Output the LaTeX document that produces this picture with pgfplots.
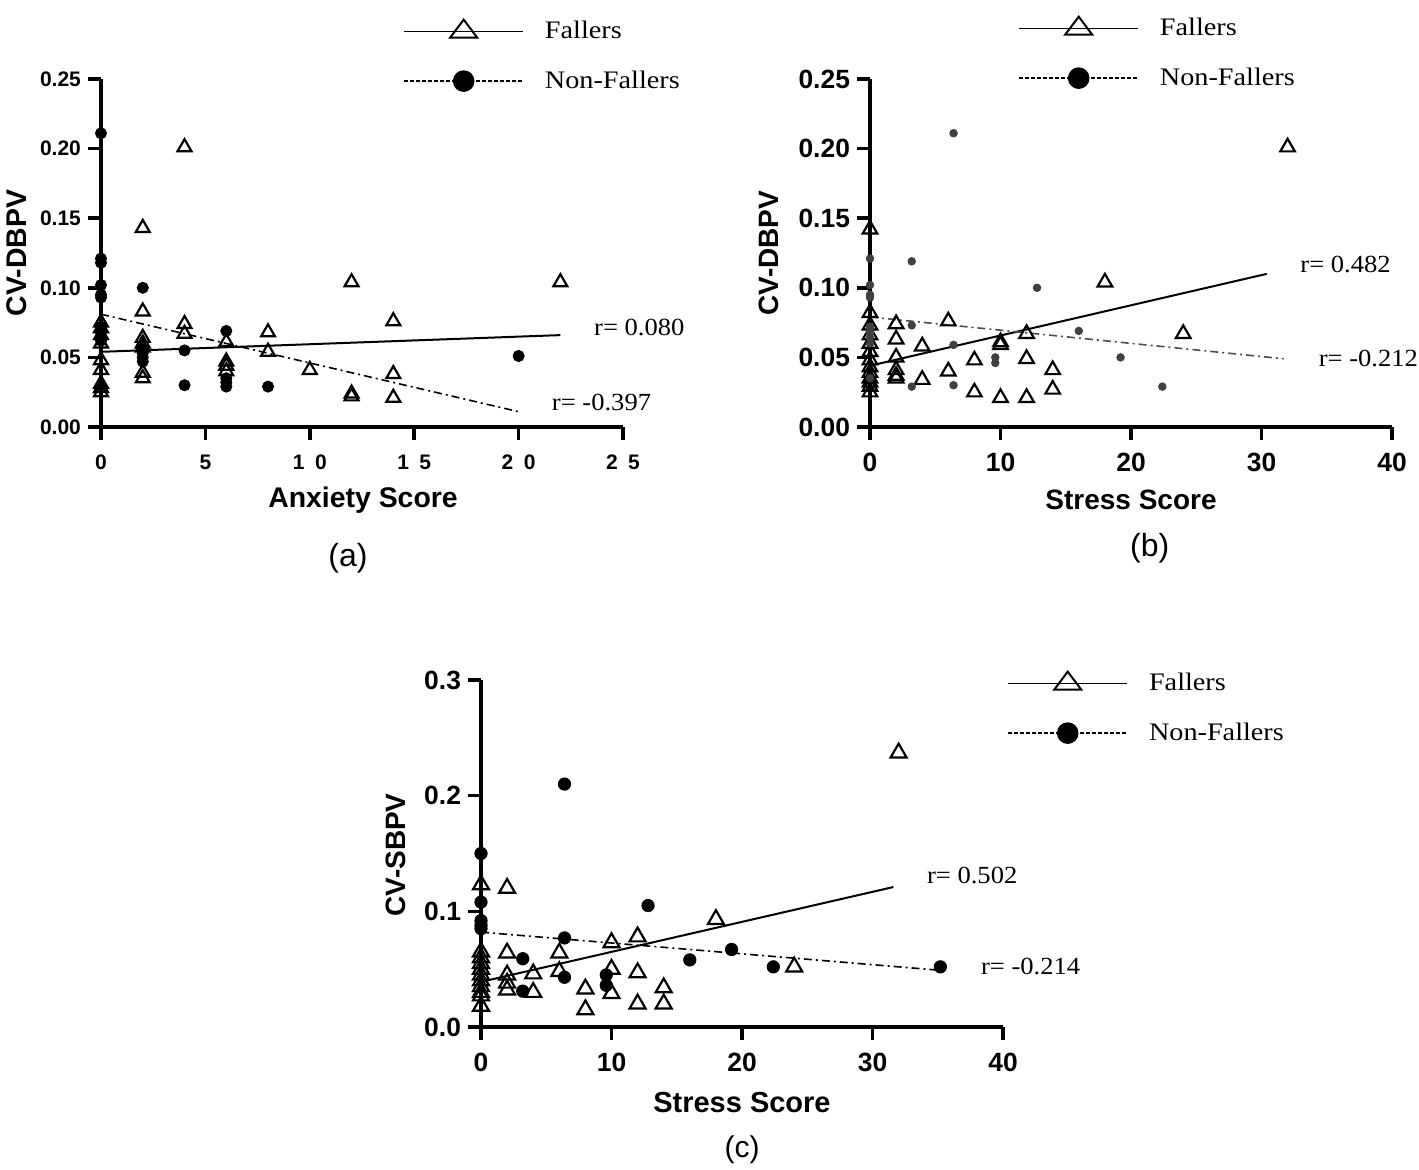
\documentclass[border=0pt]{standalone}
\usepackage{pgfplots}
\pgfplotsset{compat=1.18}
\usepackage{fontspec}
\setmainfont{Liberation Sans}
\newfontfamily\tnr{Liberation Serif}
\usepackage{graphicx}

\pgfplotsset{
  /pgf/number format/assume math mode=true,
  prism/.style={
    scale only axis,
    axis lines=left,
    axis line style={line width=1.8pt, -},
    tick align=outside,
    major tick length=6.5pt,
    tick style={black, line width=1.8pt},
    clip=false,
    scaled y ticks=false,
    scaled x ticks=false,
    legend cell align=left,
    legend image code/.code={\draw[mark repeat=2,mark phase=2,##1] plot coordinates {(0pt,0pt) (29.75pt,0pt) (59.5pt,0pt)};},
    legend style={draw=none, fill=none, inner sep=0pt, row sep=14.5pt, column sep=10.5pt, anchor=west,
      font=\tnr\fontsize{12.6}{14}\selectfont, nodes={inner sep=0pt}},
  },
  legfal/.style={black, line width=0.8pt, mark=triangle, mark size=6pt, mark options={solid, line width=1pt, fill=white, xscale=1.3}},
  legnf/.style={black, line width=0.8pt, dash pattern=on 2pt off 1pt, mark=*, mark size=5pt, mark options={solid, fill=black}},
  fitsolid/.style={black, line width=1pt, no markers, forget plot},
  fitdd/.style={black, line width=0.8pt, dash pattern=on 4pt off 2pt on 1pt off 2pt, no markers, forget plot},
}

\begin{document}
\begin{tikzpicture}
\useasboundingbox (0pt,0pt) rectangle (709.5pt,585pt);

% ---------------- (a) ----------------
\begin{axis}[prism, at={(50.5pt,371.5pt)}, anchor=south west, width=261pt, height=174pt,
  xmin=0, xmax=25, ymin=0, ymax=0.25,
  xtick={0,5,10,15,20,25}, xticklabels={0,5,1\enspace 0,1\enspace 5,2\enspace 0,2\enspace 5},
  ytick={0,0.05,0.1,0.15,0.2,0.25},
  ticklabel style={font=\bfseries\fontsize{10.5}{11}\selectfont},
  yticklabel style={/pgf/number format/fixed, /pgf/number format/fixed zerofill, /pgf/number format/precision=2},
  xticklabel style={yshift=-4pt},
  xlabel={Anxiety Score}, ylabel={CV-DBPV},
  label style={font=\bfseries\fontsize{14.2}{16}\selectfont},
  x label style={at={(axis description cs:0.502,-0.21)}, anchor=center},
  y label style={at={(axis description cs:-0.161,0.5)}, anchor=center},
  legend style={at={(axis description cs:0.5785,1.0675)}}]
\addlegendimage{legfal}\addlegendentry{\scalebox{1.12}[1]{Fallers}}
\addlegendimage{legnf}\addlegendentry{\scalebox{1.12}[1]{Non-Fallers}}
\addplot[only marks, mark=triangle, mark size=4pt, mark options={black, line width=1.1pt, fill=none}, forget plot] coordinates {
 (0,0.075) (0,0.071) (0,0.066) (0,0.060) (0,0.048) (0,0.041) (0,0.031) (0,0.028) (0,0.025)
 (2,0.143) (2,0.083) (2,0.064) (2,0.060) (2,0.057) (2,0.039) (2,0.035)
 (4,0.201) (4,0.074) (4,0.067)
 (6,0.061) (6,0.047) (6,0.044) (6,0.040)
 (8,0.068) (8,0.054)
 (10,0.041)
 (12,0.104) (12,0.024) (12,0.022)
 (14,0.076) (14,0.038) (14,0.021)
 (22,0.104)};
\addplot[only marks, mark=*, mark size=2.8pt, mark options={black, fill=black}, forget plot] coordinates {
 (0,0.211) (0,0.121) (0,0.118) (0,0.102) (0,0.095) (0,0.093) (0,0.072) (0,0.068) (0,0.065) (0,0.062)
 (2,0.100) (2,0.056) (2,0.053) (2,0.050) (2,0.047)
 (4,0.055) (4,0.030)
 (6,0.069) (6,0.035) (6,0.032) (6,0.029)
 (8,0.029)
 (20,0.051)};
\addplot[fitsolid] coordinates {(0,0.054) (22,0.066)};
\addplot[fitdd] coordinates {(0,0.081) (20,0.011)};
\node[anchor=west, font=\tnr\fontsize{12.3}{14}\selectfont] at (axis cs:23.28,0.0718) {\scalebox{1.08}[1]{r= 0.080}};
\node[anchor=west, font=\tnr\fontsize{12.3}{14}\selectfont] at (axis cs:21.26,0.0175) {\scalebox{1.08}[1]{r= -0.397}};
\node[font=\fontsize{16}{18}\selectfont] at (axis description cs:0.473,-0.376) {(a)};
\end{axis}

% ---------------- (b) ----------------
\begin{axis}[prism, at={(435pt,371.5pt)}, anchor=south west, width=261pt, height=174pt,
  xmin=0, xmax=40, ymin=0, ymax=0.25,
  xtick={0,10,20,30,40},
  ytick={0,0.05,0.1,0.15,0.2,0.25},
  ticklabel style={font=\bfseries\fontsize{13.2}{14}\selectfont},
  yticklabel style={/pgf/number format/fixed, /pgf/number format/fixed zerofill, /pgf/number format/precision=2},
  xticklabel style={yshift=-3pt},
  xlabel={Stress Score}, ylabel={CV-DBPV},
  label style={font=\bfseries\fontsize{14}{16}\selectfont},
  x label style={at={(axis description cs:0.5,-0.21)}, anchor=center},
  y label style={at={(axis description cs:-0.193,0.5)}, anchor=center},
  legend style={at={(axis description cs:0.2835,1.076)}}]
\addlegendimage{legfal}\addlegendentry{\scalebox{1.12}[1]{Fallers}}
\addlegendimage{legnf}\addlegendentry{\scalebox{1.12}[1]{Non-Fallers}}
\addplot[only marks, mark=triangle, mark size=4.2pt, mark options={black, line width=1.1pt, fill=none}, forget plot] coordinates {
 (0,0.142) (0,0.082) (0,0.073) (0,0.066) (0,0.060) (0,0.054) (0,0.048) (0,0.043) (0,0.039) (0,0.035) (0,0.032) (0,0.029) (0,0.025)
 (2,0.074) (2,0.063) (2,0.050) (2,0.041) (2,0.037) (2,0.035)
 (4,0.058) (4,0.034)
 (6,0.076) (6,0.040)
 (8,0.048) (8,0.025)
 (10,0.061) (10,0.059) (10,0.021)
 (12,0.067) (12,0.049) (12,0.021)
 (14,0.041) (14,0.027)
 (18,0.104)
 (24,0.067)
 (32,0.201)};
\addplot[only marks, mark=*, mark size=1.9pt, mark options={draw=black!75, fill=black!75}, forget plot] coordinates {
 (0,0.121) (0,0.102) (0,0.095) (0,0.093) (0,0.072) (0,0.068) (0,0.064) (0,0.060) (0,0.035)
 (3.2,0.119) (3.2,0.073) (3.2,0.029)
 (6.4,0.211) (6.4,0.059) (6.4,0.030)
 (9.6,0.050) (9.6,0.046)
 (12.8,0.100)
 (16.0,0.069)
 (19.2,0.050)
 (22.4,0.029)};
\addplot[fitsolid] coordinates {(0,0.044) (30.4,0.110)};
\addplot[fitdd, black!70] coordinates {(0,0.079) (31.7,0.049)};
\node[anchor=west, font=\tnr\fontsize{12.3}{14}\selectfont] at (axis cs:32.44,0.117) {\scalebox{1.08}[1]{r= 0.482}};
\node[anchor=west, font=\tnr\fontsize{12.3}{14}\selectfont] at (axis cs:33.85,0.0493) {\scalebox{1.08}[1]{r= -0.212}};
\node[font=\fontsize{16}{18}\selectfont] at (axis description cs:0.536,-0.348) {(b)};
\end{axis}

% ---------------- (c) ----------------
\begin{axis}[prism, at={(240.5pt,71.5pt)}, anchor=south west, width=261pt, height=173.5pt,
  xmin=0, xmax=40, ymin=0, ymax=0.3,
  xtick={0,10,20,30,40},
  ytick={0,0.1,0.2,0.3},
  ticklabel style={font=\bfseries\fontsize{13.2}{14}\selectfont},
  yticklabel style={/pgf/number format/fixed, /pgf/number format/fixed zerofill, /pgf/number format/precision=1},
  xticklabel style={yshift=-3pt},
  xlabel={Stress Score}, ylabel={CV-SBPV},
  x label style={font=\bfseries\fontsize{14.5}{16}\selectfont, at={(axis description cs:0.5,-0.219)}, anchor=center},
  y label style={font=\bfseries\fontsize{14}{16}\selectfont, at={(axis description cs:-0.163,0.496)}, anchor=center},
  legend style={at={(axis description cs:1.0077,0.9207)}}]
\addlegendimage{legfal}\addlegendentry{\scalebox{1.12}[1]{Fallers}}
\addlegendimage{legnf}\addlegendentry{\scalebox{1.12}[1]{Non-Fallers}}
\addplot[only marks, mark=triangle, mark size=4.6pt, mark options={black, line width=1.1pt, fill=none}, forget plot] coordinates {
 (0,0.123) (0,0.065) (0,0.060) (0,0.055) (0,0.050) (0,0.045) (0,0.040) (0,0.035) (0,0.030) (0,0.027) (0,0.018)
 (2,0.120) (2,0.064) (2,0.045) (2,0.038) (2,0.032)
 (4,0.046) (4,0.030)
 (6,0.064) (6,0.048)
 (8,0.033) (8,0.015)
 (10,0.073) (10,0.050) (10,0.029)
 (12,0.078) (12,0.047) (12,0.020)
 (14,0.034) (14,0.020)
 (18,0.093)
 (24,0.052)
 (32,0.237)};
\addplot[only marks, mark=*, mark size=3.1pt, mark options={black, fill=black}, forget plot] coordinates {
 (0,0.150) (0,0.108) (0,0.092) (0,0.088) (0,0.085)
 (3.2,0.059) (3.2,0.031)
 (6.4,0.210) (6.4,0.077) (6.4,0.043)
 (9.6,0.045) (9.6,0.036)
 (12.8,0.105)
 (16.0,0.058)
 (19.2,0.067)
 (22.4,0.052)
 (35.2,0.052)};
\addplot[fitsolid] coordinates {(0,0.039) (31.6,0.121)};
\addplot[fitdd] coordinates {(0,0.082) (35.2,0.049)};
\node[anchor=west, font=\tnr\fontsize{12.3}{14}\selectfont] at (axis cs:33.64,0.1314) {\scalebox{1.08}[1]{r= 0.502}};
\node[anchor=west, font=\tnr\fontsize{12.3}{14}\selectfont] at (axis cs:37.78,0.0527) {\scalebox{1.08}[1]{r= -0.214}};
\node[font=\fontsize{15}{17}\selectfont] at (axis description cs:0.5,-0.354) {(c)};
\end{axis}
\end{tikzpicture}
\end{document}
